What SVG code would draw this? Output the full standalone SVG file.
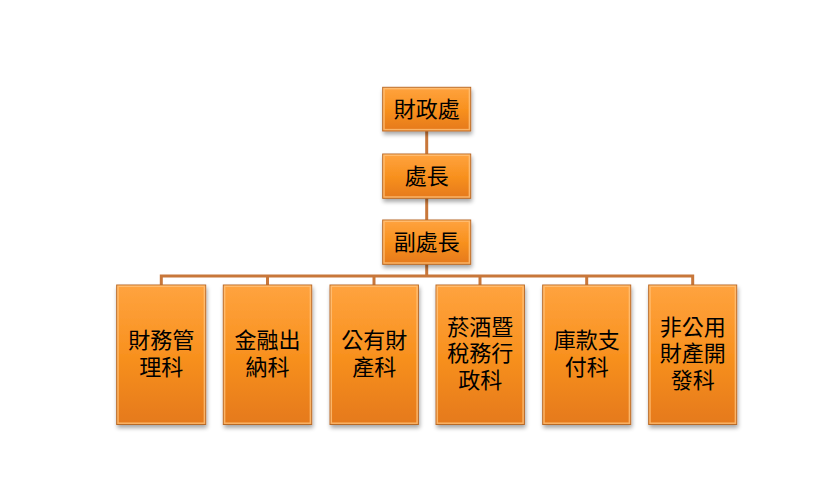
<svg xmlns="http://www.w3.org/2000/svg" width="837" height="485" viewBox="0 0 837 485">
<defs>
<linearGradient id="g" x1="0" y1="0" x2="0" y2="1">
<stop offset="0" stop-color="#FFA33F"/>
<stop offset="0.5" stop-color="#F8911F"/>
<stop offset="1" stop-color="#E5791A"/>
</linearGradient>
<filter id="sh" x="-10%" y="-10%" width="130%" height="130%">
<feGaussianBlur in="SourceAlpha" stdDeviation="2"/>
<feOffset dx="1" dy="3" result="b"/>
<feComponentTransfer><feFuncA type="linear" slope="0.35"/></feComponentTransfer>
<feMerge><feMergeNode/><feMergeNode in="SourceGraphic"/></feMerge>
</filter>
</defs>
<style>
.box{fill:url(#g);stroke:#B86A28;stroke-width:1;filter:url(#sh)}
.hl{fill:none;stroke:#FFC27A;stroke-width:1.5;opacity:0.8}
.t{font-family:"Liberation Sans","Noto Sans CJK TC","Noto Sans CJK SC",sans-serif;font-size:22px;fill:#000;text-anchor:middle}
.c{fill:none;stroke:#C8773A;stroke-width:3}
</style>
<rect width="837" height="485" fill="#fff"/>
<g id="connectors">
<line class="c" x1="426.7" y1="131" x2="426.7" y2="154"/>
<line class="c" x1="426.7" y1="198" x2="426.7" y2="220"/>
<line class="c" x1="426.7" y1="264" x2="426.7" y2="276"/>
<polyline class="c" points="161.3,285 161.3,276 692.7,276 692.7,285"/>
<line class="c" x1="267.5" y1="276" x2="267.5" y2="285"/>
<line class="c" x1="374" y1="276" x2="374" y2="285"/>
<line class="c" x1="480" y1="276" x2="480" y2="285"/>
<line class="c" x1="586.7" y1="276" x2="586.7" y2="285"/>
</g>
<g id="n0"><rect class="box" x="382.7" y="87.3" width="88" height="43.7"/><rect class="hl" x="384" y="88.6" width="85.4" height="41"/><text class="t" x="426.7" y="117">財政處</text></g>
<g id="n1"><rect class="box" x="382.7" y="154" width="88" height="44.3"/><rect class="hl" x="384" y="155.3" width="85.4" height="41.7"/><text class="t" x="426.7" y="184">處長</text></g>
<g id="n2"><rect class="box" x="382.7" y="220" width="88" height="44.3"/><rect class="hl" x="384" y="221.3" width="85.4" height="41.7"/><text class="t" x="426.7" y="250">副處長</text></g>
<g id="n3"><rect class="box" x="116.7" y="285" width="89" height="139.5"/><rect class="hl" x="118" y="286.3" width="86.4" height="136.9"/><text class="t"><tspan x="161.2" y="348">財務管</tspan><tspan x="161.2" y="374.5">理科</tspan></text></g>
<g id="n4"><rect class="box" x="223.3" y="285" width="88.4" height="139.5"/><rect class="hl" x="224.6" y="286.3" width="85.8" height="136.9"/><text class="t"><tspan x="267.5" y="348">金融出</tspan><tspan x="267.5" y="374.5">納科</tspan></text></g>
<g id="n5"><rect class="box" x="330" y="285" width="88.4" height="139.5"/><rect class="hl" x="331.3" y="286.3" width="85.8" height="136.9"/><text class="t"><tspan x="374.2" y="348">公有財</tspan><tspan x="374.2" y="374.5">產科</tspan></text></g>
<g id="n6"><rect class="box" x="436" y="285" width="88.4" height="139.5"/><rect class="hl" x="437.3" y="286.3" width="85.8" height="136.9"/><text class="t"><tspan x="480.2" y="334.5">菸酒暨</tspan><tspan x="480.2" y="361">稅務行</tspan><tspan x="480.2" y="387.5">政科</tspan></text></g>
<g id="n7"><rect class="box" x="542.7" y="285" width="88" height="139.5"/><rect class="hl" x="544" y="286.3" width="85.4" height="136.9"/><text class="t"><tspan x="586.7" y="348">庫款支</tspan><tspan x="586.7" y="374.5">付科</tspan></text></g>
<g id="n8"><rect class="box" x="648.7" y="285" width="88" height="139.5"/><rect class="hl" x="650" y="286.3" width="85.4" height="136.9"/><text class="t"><tspan x="692.7" y="334.5">非公用</tspan><tspan x="692.7" y="361">財產開</tspan><tspan x="692.7" y="387.5">發科</tspan></text></g>
</svg>
